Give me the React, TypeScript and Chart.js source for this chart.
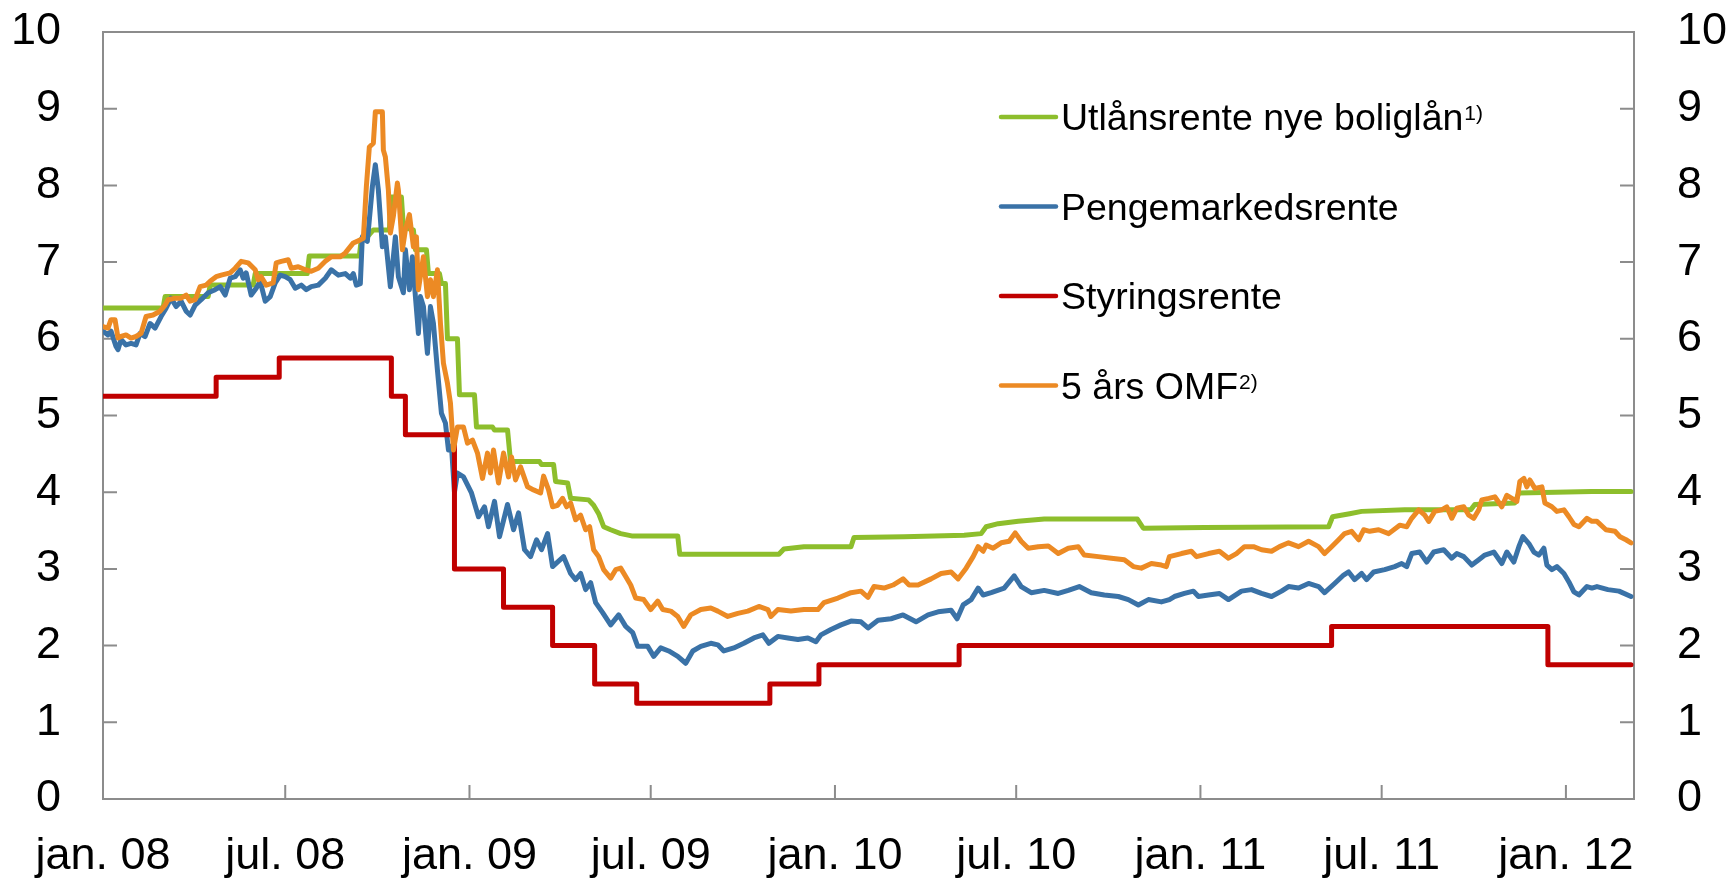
import React, { useEffect, useRef } from 'react';
import Chart from 'chart.js/auto';

// x values are days since 1 Jan 2008
const tickDays = [0, 182, 366, 547, 731, 912, 1096, 1277, 1461];
const tickLabels = ['jan. 08', 'jul. 08', 'jan. 09', 'jul. 09', 'jan. 10', 'jul. 10', 'jan. 11', 'jul. 11', 'jan. 12'];
const xMax = 1529;
const yTicks = [0, 1, 2, 3, 4, 5, 6, 7, 8, 9, 10];

const seriesLabels = ['Utlånsrente nye boliglån', 'Pengemarkedsrente', 'Styringsrente', '5 års OMF'];
const seriesNotes = ['1)', '', '', '2)'];
const seriesColors = ['#8DBE2C', '#3A72A7', '#C00000', '#EC8A24'];

const utlansrente: [number, number][] = [
  [0, 6.4], [60, 6.4], [62, 6.55], [105, 6.55], [107, 6.7], [150, 6.7], [152, 6.85], [204, 6.85], [206, 7.08],
  [256, 7.08], [258, 7.3], [264, 7.33], [270, 7.42], [286, 7.42], [288, 7.85], [298, 7.85], [300, 7.45], [310, 7.42],
  [312, 7.16], [323, 7.16], [325, 6.85], [336, 6.85], [338, 6.72], [342, 6.72], [344, 6.0], [354, 6.0], [356, 5.27],
  [371, 5.27], [373, 4.85], [389, 4.85], [391, 4.81], [404, 4.81], [407, 4.4], [436, 4.4], [438, 4.36], [450, 4.36],
  [452, 4.14], [464, 4.12], [467, 3.92], [485, 3.9], [490, 3.83], [495, 3.72], [500, 3.55], [507, 3.51], [517, 3.46],
  [528, 3.43], [574, 3.43], [576, 3.19], [675, 3.19], [680, 3.26], [700, 3.29], [747, 3.29], [750, 3.41], [800, 3.42],
  [860, 3.44], [877, 3.46], [882, 3.55], [894, 3.59], [914, 3.62], [940, 3.65], [1033, 3.65], [1039, 3.53],
  [1100, 3.54], [1224, 3.55], [1228, 3.68], [1245, 3.72], [1257, 3.75], [1300, 3.77], [1366, 3.77], [1370, 3.84],
  [1410, 3.86], [1414, 3.99], [1487, 4.01], [1526, 4.01],
];

const pengemarkedsrente: [number, number][] = [
  [0, 6.1], [5, 6.05], [8, 6.1], [13, 5.9], [15, 5.86], [18, 5.99], [23, 5.92], [28, 5.94], [33, 5.92], [37, 6.07],
  [42, 6.03], [47, 6.2], [52, 6.14], [58, 6.29], [63, 6.4], [68, 6.53], [73, 6.42], [78, 6.49], [83, 6.36], [87, 6.31],
  [92, 6.44], [98, 6.51], [105, 6.6], [112, 6.64], [117, 6.68], [122, 6.57], [127, 6.79], [132, 6.81], [137, 6.9],
  [140, 6.79], [143, 6.86], [148, 6.57], [153, 6.66], [157, 6.75], [162, 6.49], [167, 6.55], [172, 6.73], [177, 6.83],
  [182, 6.81], [187, 6.77], [192, 6.66], [198, 6.7], [203, 6.64], [208, 6.68], [215, 6.7], [222, 6.79], [228, 6.9],
  [235, 6.83], [242, 6.85], [247, 6.79], [250, 6.85], [253, 6.7], [257, 6.72], [259, 7.33], [264, 7.27], [269, 7.98],
  [272, 8.27], [275, 7.94], [279, 7.2], [282, 7.33], [287, 6.68], [292, 7.33], [295, 6.81], [300, 6.6], [302, 7.16],
  [306, 6.64], [309, 7.07], [312, 6.55], [315, 6.07], [317, 6.55], [320, 6.42], [324, 5.81], [327, 6.42], [330, 6.2],
  [334, 5.59], [338, 5.03], [342, 4.9], [345, 4.55], [348, 4.6], [351, 4.0], [354, 4.25], [360, 4.2], [368, 3.99],
  [375, 3.68], [381, 3.81], [385, 3.55], [391, 3.88], [396, 3.42], [404, 3.84], [410, 3.51], [415, 3.73], [421, 3.25],
  [427, 3.16], [433, 3.38], [438, 3.25], [444, 3.46], [449, 3.03], [455, 3.1], [460, 3.16], [467, 2.94], [472, 2.86],
  [477, 2.94], [482, 2.73], [487, 2.82], [492, 2.56], [499, 2.43], [507, 2.27], [515, 2.4], [522, 2.25], [529, 2.17],
  [534, 1.99], [544, 1.99], [550, 1.86], [557, 1.97], [565, 1.93], [574, 1.86], [582, 1.77], [589, 1.93], [597, 1.99],
  [607, 2.03], [614, 2.01], [620, 1.93], [630, 1.97], [640, 2.03], [650, 2.1], [659, 2.14], [665, 2.03], [674, 2.12],
  [684, 2.1], [694, 2.08], [704, 2.1], [712, 2.05], [717, 2.14], [727, 2.21], [737, 2.27], [747, 2.32], [757, 2.31],
  [764, 2.23], [774, 2.33], [787, 2.35], [799, 2.4], [812, 2.31], [824, 2.4], [834, 2.44], [847, 2.46], [853, 2.35],
  [859, 2.53], [867, 2.6], [874, 2.75], [879, 2.66], [887, 2.69], [900, 2.75], [910, 2.91], [917, 2.77], [927, 2.69],
  [940, 2.72], [954, 2.68], [964, 2.72], [975, 2.77], [987, 2.69], [1000, 2.66], [1014, 2.64], [1024, 2.6],
  [1034, 2.53], [1044, 2.6], [1057, 2.57], [1065, 2.6], [1070, 2.64], [1080, 2.68], [1089, 2.71], [1094, 2.64],
  [1104, 2.66], [1115, 2.68], [1124, 2.6], [1137, 2.71], [1147, 2.73], [1157, 2.68], [1167, 2.64], [1177, 2.71],
  [1184, 2.77], [1194, 2.75], [1204, 2.81], [1214, 2.77], [1220, 2.69], [1230, 2.81], [1239, 2.92], [1244, 2.96],
  [1250, 2.86], [1257, 2.94], [1262, 2.86], [1269, 2.96], [1280, 2.99], [1290, 3.03], [1297, 3.07], [1302, 3.03],
  [1307, 3.2], [1315, 3.22], [1322, 3.09], [1329, 3.22], [1339, 3.25], [1347, 3.14], [1352, 3.2], [1359, 3.16],
  [1367, 3.05], [1374, 3.12], [1380, 3.18], [1389, 3.22], [1397, 3.07], [1402, 3.22], [1409, 3.09], [1414, 3.29],
  [1418, 3.42], [1424, 3.33], [1429, 3.22], [1434, 3.18], [1439, 3.27], [1442, 3.05], [1447, 2.99], [1452, 3.03],
  [1459, 2.94], [1464, 2.83], [1469, 2.7], [1474, 2.66], [1482, 2.77], [1487, 2.75], [1492, 2.77], [1503, 2.73],
  [1514, 2.71], [1526, 2.64],
];

// policy rate: [day of change, new level]
const styringsrente: [number, number][] = [
  [0, 5.25], [113, 5.5], [176, 5.75], [288, 5.25], [302, 4.75], [351, 3.0], [400, 2.5], [449, 2.0], [491, 1.5],
  [533, 1.25], [666, 1.5], [715, 1.75], [855, 2.0], [1227, 2.25], [1443, 1.75], [1526, 1.75],
];

const omf5: [number, number][] = [
  [0, 6.16], [5, 6.14], [8, 6.25], [12, 6.25], [15, 6.01], [18, 6.03], [23, 6.05], [28, 6.01], [33, 6.03], [38, 6.07],
  [43, 6.29], [50, 6.31], [57, 6.36], [62, 6.44], [65, 6.51], [72, 6.53], [78, 6.53], [83, 6.57], [87, 6.49],
  [92, 6.51], [97, 6.68], [103, 6.7], [107, 6.75], [113, 6.81], [118, 6.83], [127, 6.86], [132, 6.92], [138, 7.01],
  [145, 6.99], [152, 6.9], [155, 6.77], [158, 6.81], [163, 6.7], [170, 6.73], [173, 6.99], [178, 7.01], [185, 7.03],
  [188, 6.92], [195, 6.94], [202, 6.9], [208, 6.88], [215, 6.92], [222, 7.01], [228, 7.07], [237, 7.07], [242, 7.12],
  [250, 7.25], [257, 7.29], [260, 7.31], [263, 7.98], [266, 8.5], [270, 8.55], [272, 8.96], [279, 8.96], [280, 8.46],
  [282, 8.37], [285, 7.94], [287, 7.38], [290, 7.6], [294, 8.03], [295, 7.94], [299, 7.16], [302, 7.42], [306, 7.62],
  [310, 7.2], [313, 7.33], [315, 6.64], [320, 7.07], [324, 6.55], [327, 6.77], [330, 6.55], [334, 6.9], [337, 6.2],
  [340, 5.68], [344, 5.42], [347, 5.16], [350, 4.55], [354, 4.85], [360, 4.85], [364, 4.64], [369, 4.68], [374, 4.51],
  [379, 4.18], [384, 4.51], [387, 4.25], [390, 4.55], [395, 4.12], [400, 4.51], [405, 4.2], [408, 4.46], [412, 4.16],
  [417, 4.33], [424, 4.07], [430, 4.03], [437, 3.99], [440, 4.21], [445, 4.03], [449, 3.81], [454, 3.83], [459, 3.92],
  [463, 3.81], [467, 3.86], [472, 3.64], [477, 3.7], [482, 3.51], [486, 3.55], [490, 3.25], [495, 3.16], [500, 2.99],
  [507, 2.88], [512, 2.99], [517, 3.01], [522, 2.9], [527, 2.79], [532, 2.62], [540, 2.6], [547, 2.47], [554, 2.58],
  [559, 2.47], [567, 2.45], [574, 2.38], [580, 2.25], [587, 2.4], [597, 2.47], [607, 2.49], [614, 2.45], [624, 2.38],
  [634, 2.42], [644, 2.45], [655, 2.51], [664, 2.47], [667, 2.38], [674, 2.47], [687, 2.45], [700, 2.47], [714, 2.47],
  [720, 2.56], [734, 2.62], [747, 2.69], [757, 2.71], [764, 2.63], [770, 2.77], [780, 2.75], [789, 2.79], [799, 2.87],
  [805, 2.79], [814, 2.79], [827, 2.87], [837, 2.94], [847, 2.96], [854, 2.87], [862, 3.01], [869, 3.16], [874, 3.29],
  [879, 3.23], [882, 3.31], [889, 3.27], [897, 3.34], [905, 3.36], [911, 3.47], [917, 3.36], [924, 3.27], [934, 3.29],
  [944, 3.3], [954, 3.2], [964, 3.27], [974, 3.29], [980, 3.18], [994, 3.16], [1007, 3.14], [1020, 3.12], [1029, 3.03],
  [1037, 3.01], [1047, 3.07], [1057, 3.05], [1062, 3.03], [1065, 3.16], [1077, 3.2], [1087, 3.23], [1092, 3.16],
  [1104, 3.2], [1115, 3.23], [1124, 3.14], [1132, 3.2], [1140, 3.29], [1149, 3.29], [1157, 3.25], [1167, 3.23],
  [1175, 3.29], [1184, 3.34], [1194, 3.29], [1204, 3.36], [1214, 3.29], [1220, 3.2], [1227, 3.29], [1234, 3.38],
  [1240, 3.46], [1247, 3.49], [1254, 3.38], [1259, 3.51], [1265, 3.49], [1274, 3.51], [1284, 3.46], [1295, 3.57],
  [1302, 3.55], [1307, 3.66], [1314, 3.77], [1320, 3.7], [1324, 3.62], [1330, 3.75], [1337, 3.77], [1342, 3.81],
  [1347, 3.66], [1352, 3.79], [1359, 3.81], [1364, 3.7], [1369, 3.66], [1374, 3.77], [1377, 3.9], [1384, 3.92],
  [1390, 3.94], [1397, 3.81], [1402, 3.96], [1407, 3.92], [1412, 3.88], [1415, 4.14], [1419, 4.18], [1422, 4.07],
  [1425, 4.16], [1430, 4.05], [1437, 4.07], [1440, 3.86], [1447, 3.81], [1452, 3.75], [1459, 3.77], [1464, 3.68],
  [1469, 3.58], [1474, 3.55], [1482, 3.66], [1487, 3.62], [1492, 3.62], [1501, 3.51], [1510, 3.49], [1515, 3.42],
  [1521, 3.38], [1526, 3.34],
];

const FONT = '"Liberation Sans", Arial, sans-serif';
const AXIS_COLOR = '#8C8C8C';
const TICK_FONT_SIZE = 45;
const LEGEND_FONT_SIZE = 37.5;
const NOTE_FONT_SIZE = 21;

const toXY = (arr: [number, number][]) => arr.map(([x, y]) => ({ x, y }));

const zeroPadding = (s: any) => {
  s.paddingTop = 0;
  s.paddingBottom = 0;
  s.paddingLeft = 0;
  s.paddingRight = 0;
};

const framePlugin = {
  id: 'frameAndLegend',
  beforeDatasetsDraw(chart: any) {
    const { ctx, chartArea: a, scales } = chart;
    ctx.save();
    ctx.strokeStyle = AXIS_COLOR;
    ctx.lineWidth = 2;
    ctx.strokeRect(a.left, a.top, a.right - a.left, a.bottom - a.top);
    const tl = 14;
    ctx.beginPath();
    for (const v of yTicks) {
      const y = scales.y.getPixelForValue(v);
      ctx.moveTo(a.left, y);
      ctx.lineTo(a.left + tl, y);
      ctx.moveTo(a.right - tl, y);
      ctx.lineTo(a.right, y);
    }
    for (const d of tickDays) {
      const x = scales.x.getPixelForValue(d);
      ctx.moveTo(x, a.bottom);
      ctx.lineTo(x, a.bottom - tl);
    }
    ctx.stroke();
    ctx.restore();
  },
  afterDatasetsDraw(chart: any) {
    const { ctx, chartArea: a } = chart;
    ctx.save();
    const lineX1 = a.left + 898;
    const lineX2 = a.left + 953;
    const textX = a.left + 958;
    const row0 = a.top + 85;
    const rowGap = 89.5;
    seriesLabels.forEach((label, i) => {
      const y = row0 + i * rowGap;
      ctx.strokeStyle = seriesColors[i];
      ctx.lineWidth = 4.5;
      ctx.lineCap = 'round';
      ctx.beginPath();
      ctx.moveTo(lineX1, y);
      ctx.lineTo(lineX2, y);
      ctx.stroke();
      ctx.fillStyle = '#000';
      ctx.textBaseline = 'alphabetic';
      ctx.textAlign = 'left';
      ctx.font = `${LEGEND_FONT_SIZE}px ${FONT}`;
      const baseline = y + 0.358 * LEGEND_FONT_SIZE;
      ctx.fillText(label, textX, baseline);
      if (seriesNotes[i]) {
        const w = ctx.measureText(label).width;
        ctx.font = `${NOTE_FONT_SIZE}px ${FONT}`;
        ctx.fillText(seriesNotes[i], textX + w + 1, baseline - 10);
      }
    });
    ctx.restore();
  },
};

export default function App() {
  const canvasRef = useRef<HTMLCanvasElement | null>(null);

  useEffect(() => {
    if (!canvasRef.current) return;
    const tickFont = { family: FONT, size: TICK_FONT_SIZE };
    const datasets = [
      { label: seriesLabels[0], data: toXY(utlansrente), borderColor: seriesColors[0], order: 3 },
      { label: seriesLabels[1], data: toXY(pengemarkedsrente), borderColor: seriesColors[1], order: 2 },
      { label: seriesLabels[2], data: toXY(styringsrente), borderColor: seriesColors[2], order: 1, stepped: true },
      { label: seriesLabels[3], data: toXY(omf5), borderColor: seriesColors[3], order: 0 },
    ];
    const chart = new Chart(canvasRef.current, {
      type: 'line',
      data: { datasets: datasets as any },
      options: {
        animation: false,
        responsive: false,
        devicePixelRatio: 1,
        layout: { padding: { top: 32, left: 0, right: 0, bottom: 0 } },
        plugins: { legend: { display: false }, tooltip: { enabled: false } },
        elements: {
          point: { radius: 0 },
          line: { borderWidth: 5, tension: 0, borderCapStyle: 'round', borderJoinStyle: 'round', fill: false },
        },
        scales: {
          x: {
            type: 'linear',
            min: 0,
            max: xMax,
            grid: { display: false, drawTicks: false },
            border: { display: false },
            afterBuildTicks: (s: any) => {
              s.ticks = tickDays.map((v) => ({ value: v }));
            },
            afterFit: (s: any) => {
              s.height = 84;
              zeroPadding(s);
            },
            ticks: {
              padding: 31,
              color: '#000',
              font: tickFont,
              maxRotation: 0,
              autoSkip: false,
              callback: (v: any) => {
                const i = tickDays.indexOf(Number(v));
                return i >= 0 ? tickLabels[i] : '';
              },
            },
          },
          y: {
            position: 'left',
            min: 0,
            max: 10,
            grid: { display: false, drawTicks: false },
            border: { display: false },
            afterFit: (s: any) => {
              s.width = 103;
              zeroPadding(s);
            },
            ticks: { stepSize: 1, padding: 42, color: '#000', font: tickFont },
          },
          y2: {
            position: 'right',
            display: true,
            min: 0,
            max: 10,
            grid: { display: false, drawTicks: false },
            border: { display: false },
            afterFit: (s: any) => {
              s.width = 97;
              zeroPadding(s);
            },
            ticks: { stepSize: 1, padding: 43, color: '#000', font: tickFont },
          },
        },
      } as any,
      plugins: [framePlugin],
    });
    return () => chart.destroy();
  }, []);

  return (
    <div style={{ position: 'fixed', left: 0, top: 0, width: 1731, height: 883, background: '#fff' }}>
      <canvas ref={canvasRef} width={1731} height={883} style={{ display: 'block' }} />
    </div>
  );
}
